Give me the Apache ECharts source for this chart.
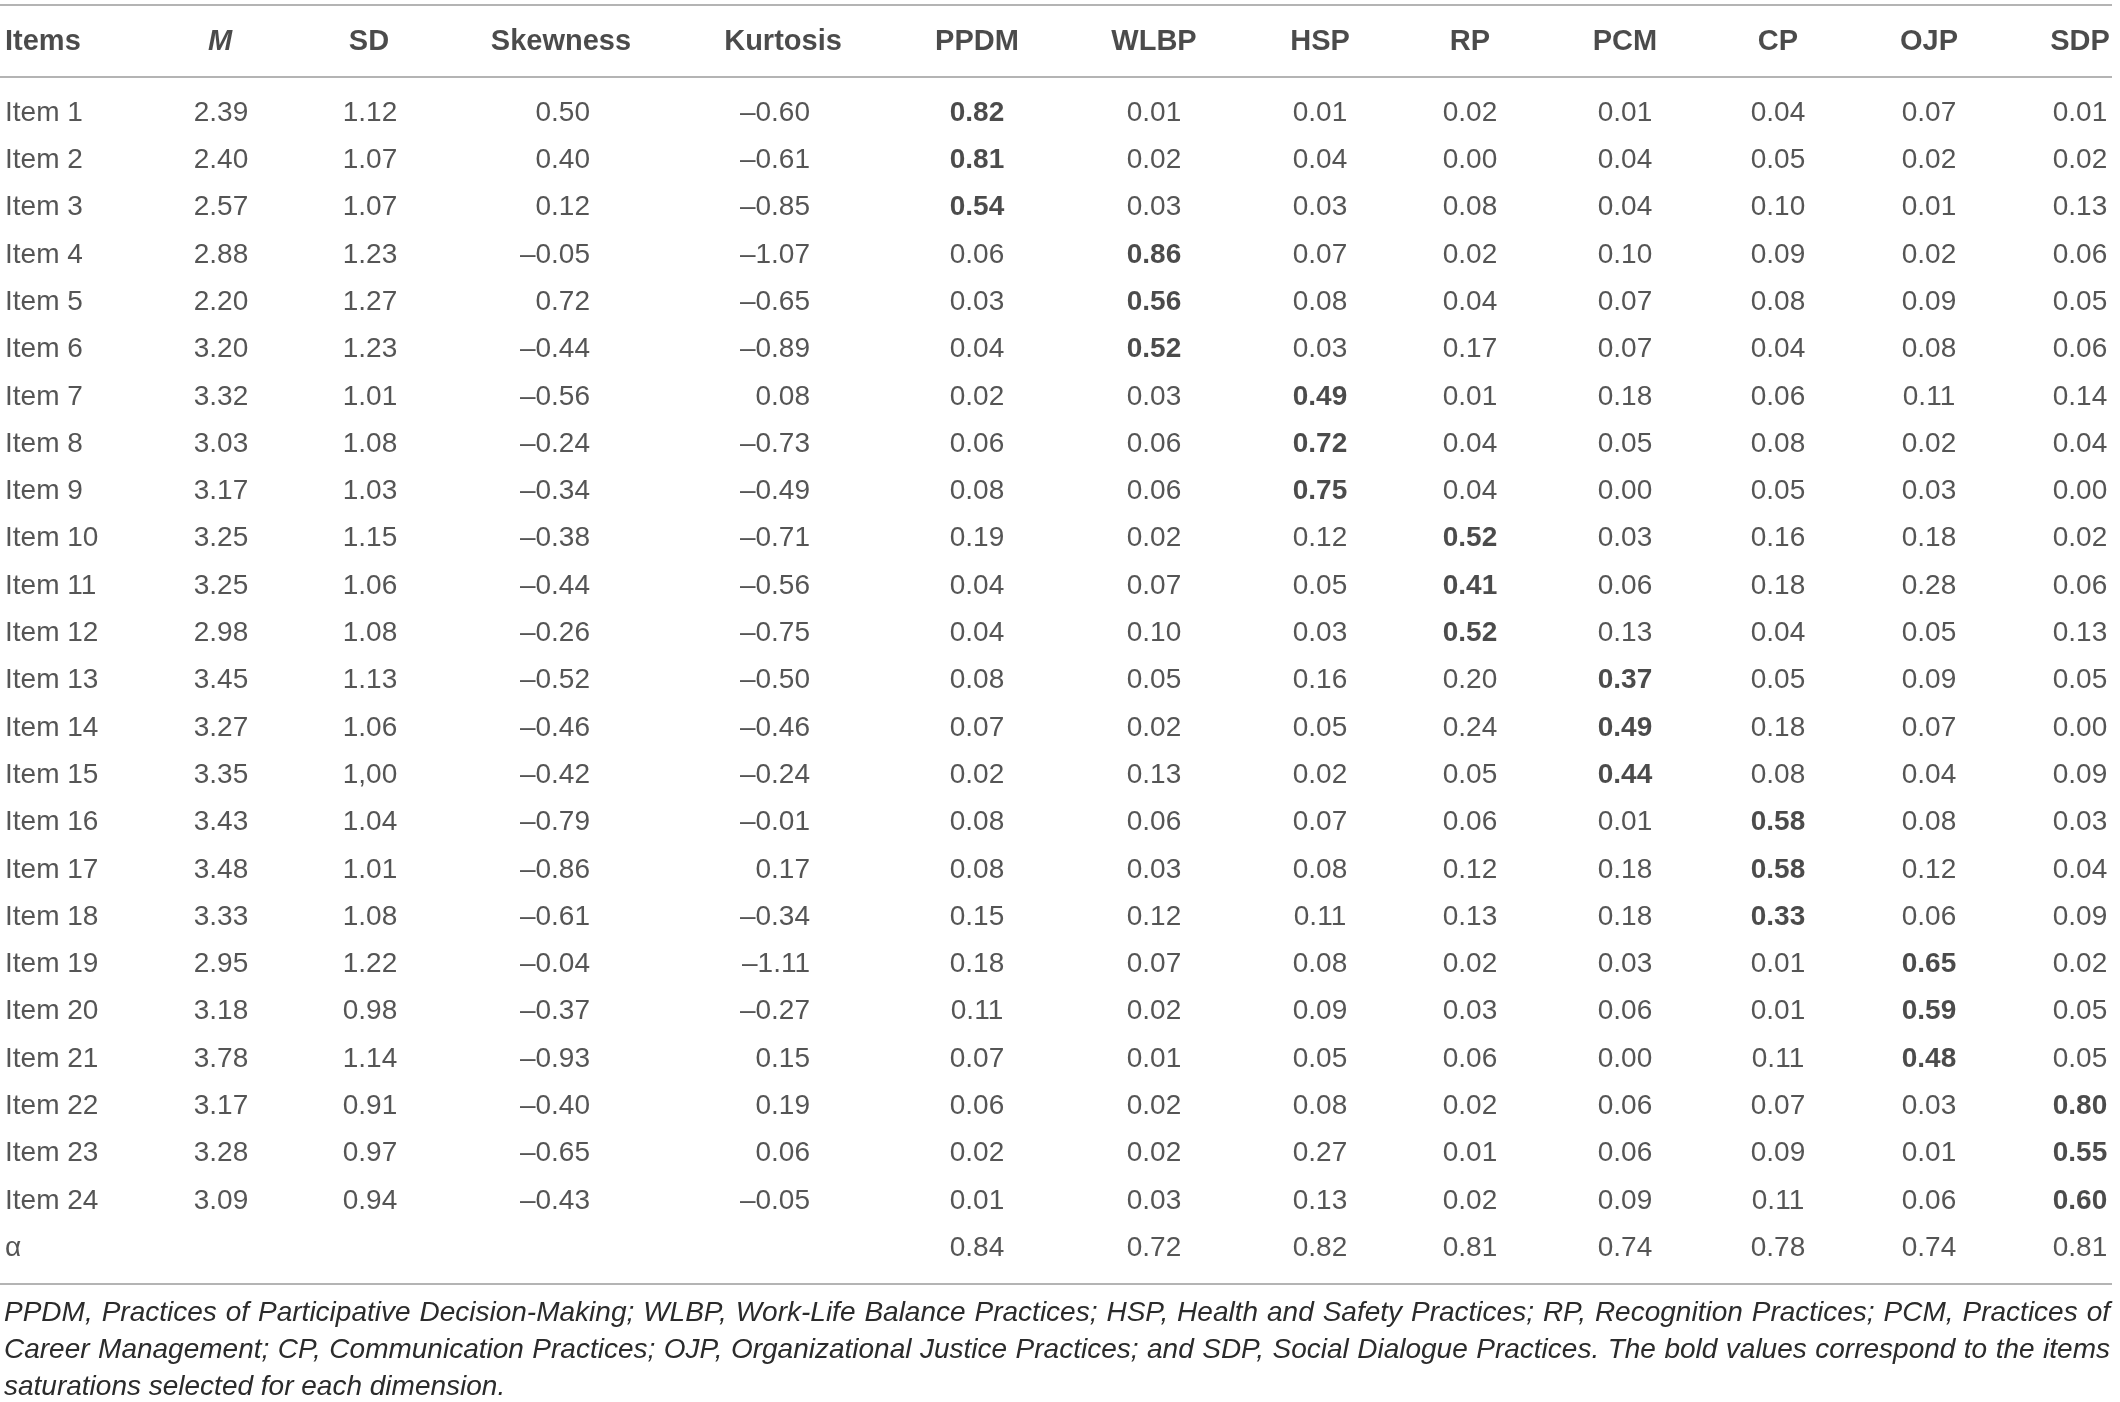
<!DOCTYPE html>
<html>
<head>
<meta charset="utf-8">
<script src="https://cdn.jsdelivr.net/npm/echarts@6/dist/echarts.min.js"></script>
<style>
  html, body { margin: 0; padding: 0; background: #fff; }
  #chart { width: 2120px; height: 1402px; }
</style>
</head>
<body>
<div id="chart"></div>
<script>
  const rows = ['Item 1', 'Item 2', 'Item 3', 'Item 4', 'Item 5', 'Item 6', 'Item 7', 'Item 8',
    'Item 9', 'Item 10', 'Item 11', 'Item 12', 'Item 13', 'Item 14', 'Item 15', 'Item 16',
    'Item 17', 'Item 18', 'Item 19', 'Item 20', 'Item 21', 'Item 22', 'Item 23', 'Item 24', 'α'];
  const items = rows.slice(0, 24);

  const meanValues = [2.39, 2.40, 2.57, 2.88, 2.20, 3.20, 3.32, 3.03, 3.17, 3.25, 3.25, 2.98,
    3.45, 3.27, 3.35, 3.43, 3.48, 3.33, 2.95, 3.18, 3.78, 3.17, 3.28, 3.09];
  const sdValues = [1.12, 1.07, 1.07, 1.23, 1.27, 1.23, 1.01, 1.08, 1.03, 1.15, 1.06, 1.08,
    1.13, 1.06, 1.00, 1.04, 1.01, 1.08, 1.22, 0.98, 1.14, 0.91, 0.97, 0.94];
  // the source prints this one with a decimal comma
  const sdPrinted = { 'Item 15': '1,00' };
  const skewValues = [0.50, 0.40, 0.12, -0.05, 0.72, -0.44, -0.56, -0.24, -0.34, -0.38, -0.44, -0.26,
    -0.52, -0.46, -0.42, -0.79, -0.86, -0.61, -0.04, -0.37, -0.93, -0.40, -0.65, -0.43];
  const kurtValues = [-0.60, -0.61, -0.85, -1.07, -0.65, -0.89, 0.08, -0.73, -0.49, -0.71, -0.56, -0.75,
    -0.50, -0.46, -0.24, -0.01, 0.17, -0.34, -1.11, -0.27, 0.15, 0.19, 0.06, -0.05];

  const factors = ['PPDM', 'WLBP', 'HSP', 'RP', 'PCM', 'CP', 'OJP', 'SDP'];
  const ppdm = [0.82, 0.81, 0.54, 0.06, 0.03, 0.04, 0.02, 0.06, 0.08, 0.19, 0.04, 0.04,
    0.08, 0.07, 0.02, 0.08, 0.08, 0.15, 0.18, 0.11, 0.07, 0.06, 0.02, 0.01];
  const wlbp = [0.01, 0.02, 0.03, 0.86, 0.56, 0.52, 0.03, 0.06, 0.06, 0.02, 0.07, 0.10,
    0.05, 0.02, 0.13, 0.06, 0.03, 0.12, 0.07, 0.02, 0.01, 0.02, 0.02, 0.03];
  const hsp = [0.01, 0.04, 0.03, 0.07, 0.08, 0.03, 0.49, 0.72, 0.75, 0.12, 0.05, 0.03,
    0.16, 0.05, 0.02, 0.07, 0.08, 0.11, 0.08, 0.09, 0.05, 0.08, 0.27, 0.13];
  const rp = [0.02, 0.00, 0.08, 0.02, 0.04, 0.17, 0.01, 0.04, 0.04, 0.52, 0.41, 0.52,
    0.20, 0.24, 0.05, 0.06, 0.12, 0.13, 0.02, 0.03, 0.06, 0.02, 0.01, 0.02];
  const pcm = [0.01, 0.04, 0.04, 0.10, 0.07, 0.07, 0.18, 0.05, 0.00, 0.03, 0.06, 0.13,
    0.37, 0.49, 0.44, 0.01, 0.18, 0.18, 0.03, 0.06, 0.00, 0.06, 0.06, 0.09];
  const cp = [0.04, 0.05, 0.10, 0.09, 0.08, 0.04, 0.06, 0.08, 0.05, 0.16, 0.18, 0.04,
    0.05, 0.18, 0.08, 0.58, 0.58, 0.33, 0.01, 0.01, 0.11, 0.07, 0.09, 0.11];
  const ojp = [0.07, 0.02, 0.01, 0.02, 0.09, 0.08, 0.11, 0.02, 0.03, 0.18, 0.28, 0.05,
    0.09, 0.07, 0.04, 0.08, 0.12, 0.06, 0.65, 0.59, 0.48, 0.03, 0.01, 0.06];
  const sdp = [0.01, 0.02, 0.13, 0.06, 0.05, 0.06, 0.14, 0.04, 0.00, 0.02, 0.06, 0.13,
    0.05, 0.00, 0.09, 0.03, 0.04, 0.09, 0.02, 0.05, 0.05, 0.80, 0.55, 0.60];
  const loadings = [ppdm, wlbp, hsp, rp, pcm, cp, ojp, sdp];
  const alphaValues = [0.84, 0.72, 0.82, 0.81, 0.74, 0.78, 0.74, 0.81];
  // dimension each item was assigned to (printed bold)
  const selected = ['PPDM', 'PPDM', 'PPDM', 'WLBP', 'WLBP', 'WLBP', 'HSP', 'HSP', 'HSP',
    'RP', 'RP', 'RP', 'PCM', 'PCM', 'PCM', 'CP', 'CP', 'CP', 'OJP', 'OJP', 'OJP', 'SDP', 'SDP', 'SDP'];

  const headers = ['Items', 'M', 'SD', 'Skewness', 'Kurtosis'].concat(factors);
  const footnote = [
    'PPDM, Practices of Participative Decision-Making; WLBP, Work-Life Balance Practices; HSP, Health and Safety Practices; RP, Recognition Practices; PCM, Practices of',
    'Career Management; CP, Communication Practices; OJP, Organizational Justice Practices; and SDP, Social Dialogue Practices. The bold values correspond to the items',
    'saturations selected for each dimension.'
  ];

  // layout (pixels along the 0..2120 x axis)
  const FONT = '"Liberation Sans", Arial, Helvetica, sans-serif';
  const TEXT = '#2b2b2b';
  const RULE = '#b4b4b4';
  const headX = [5, 220, 369, 561, 783, 977, 1154, 1320, 1470, 1625, 1778, 1929, 2080];
  const headAlign = ['left', 'center', 'center', 'center', 'center',
    'center', 'center', 'center', 'center', 'center', 'center', 'center', 'center'];
  const cellX = [5, 221, 370, 590, 810, 977, 1154, 1320, 1470, 1625, 1778, 1929, 2080];
  const cellAlign = ['left', 'center', 'center', 'right', 'right',
    'center', 'center', 'center', 'center', 'center', 'center', 'center', 'center'];
  const rowH = 47.3;
  const firstRowY = 113;

  function fmt(v) {
    return v.toFixed(2).replace('-', '\u2013');
  }

  function textSeries(grid, x, align, data) {
    return {
      type: 'scatter',
      xAxisIndex: grid,
      yAxisIndex: grid,
      symbolSize: 1,
      silent: true,
      itemStyle: { color: 'rgba(0,0,0,0)' },
      label: {
        show: true,
        position: 'inside',
        align: align,
        verticalAlign: 'middle',
        fontFamily: FONT,
        fontSize: 28,
        color: TEXT,
        formatter: function (p) { return p.data.text; }
      },
      data: data.map(function (d) {
        return {
          value: [x, d.row],
          text: d.text,
          label: d.label || {}
        };
      })
    };
  }

  const series = [];

  // header row
  headers.forEach(function (h, i) {
    series.push(textSeries(0, headX[i], headAlign[i], [{
      row: 'head',
      text: h,
      label: { fontWeight: 'bold', fontSize: 29, color: '#1e1e1e', fontStyle: h === 'M' ? 'italic' : 'normal' }
    }]));
  });

  // item labels
  series.push(textSeries(1, cellX[0], cellAlign[0], rows.map(function (r) {
    return { row: r, text: r };
  })));

  const descriptive = [meanValues, sdValues, skewValues, kurtValues];
  descriptive.forEach(function (arr, k) {
    series.push(textSeries(1, cellX[k + 1], cellAlign[k + 1], arr.map(function (v, i) {
      let t = fmt(v);
      if (arr === sdValues && sdPrinted[items[i]]) t = sdPrinted[items[i]];
      return { row: items[i], text: t };
    })));
  });

  loadings.forEach(function (arr, f) {
    const cells = arr.map(function (v, i) {
      return {
        row: items[i],
        text: fmt(v),
        label: selected[i] === factors[f] ? { fontWeight: 'bold', color: '#1e1e1e' } : {}
      };
    });
    cells.push({ row: 'α', text: fmt(alphaValues[f]) });
    series.push(textSeries(1, cellX[f + 5], cellAlign[f + 5], cells));
  });

  // justified footnote lines, one text per word
  const measure = document.createElement('canvas').getContext('2d');
  const noteFont = 'italic 28px ' + FONT;
  measure.font = noteFont;
  const noteLeft = 4;
  const noteRight = 2110;
  const noteY = [1313, 1350, 1387];
  const noteTexts = [];
  footnote.forEach(function (line, li) {
    const words = line.split(' ');
    const widths = words.map(function (w) { return measure.measureText(w).width; });
    const space = measure.measureText(' ').width;
    let gap = space;
    if (li < footnote.length - 1) {
      const total = widths.reduce(function (a, b) { return a + b; }, 0);
      gap = (noteRight - noteLeft - total) / (words.length - 1);
    }
    let x = noteLeft;
    words.forEach(function (w, wi) {
      noteTexts.push({
        type: 'text',
        style: {
          text: w, x: x, y: noteY[li], verticalAlign: 'middle',
          font: noteFont, fill: '#2b2b2b'
        }
      });
      x += widths[wi] + gap;
    });
  });

  function rule(y) {
    return {
      type: 'line',
      shape: { x1: 0, y1: y, x2: 2112, y2: y },
      style: { stroke: RULE, lineWidth: 2 }
    };
  }

  const chart = echarts.init(document.getElementById('chart'), null, { renderer: 'canvas' });
  chart.setOption({
    backgroundColor: '#fff',
    animation: false,
    grid: [
      { left: 0, width: 2120, top: 7, height: 70 },
      { left: 0, width: 2120, top: firstRowY - rowH / 2, height: rowH * rows.length }
    ],
    xAxis: [
      { gridIndex: 0, type: 'value', min: 0, max: 2120, show: false },
      { gridIndex: 1, type: 'value', min: 0, max: 2120, show: false }
    ],
    yAxis: [
      { gridIndex: 0, type: 'category', data: ['head'], show: false },
      { gridIndex: 1, type: 'category', data: rows, inverse: true, show: false }
    ],
    series: series,
    graphic: [rule(5), rule(77), rule(1284)].concat(noteTexts)
  });
</script>
</body>
</html>
